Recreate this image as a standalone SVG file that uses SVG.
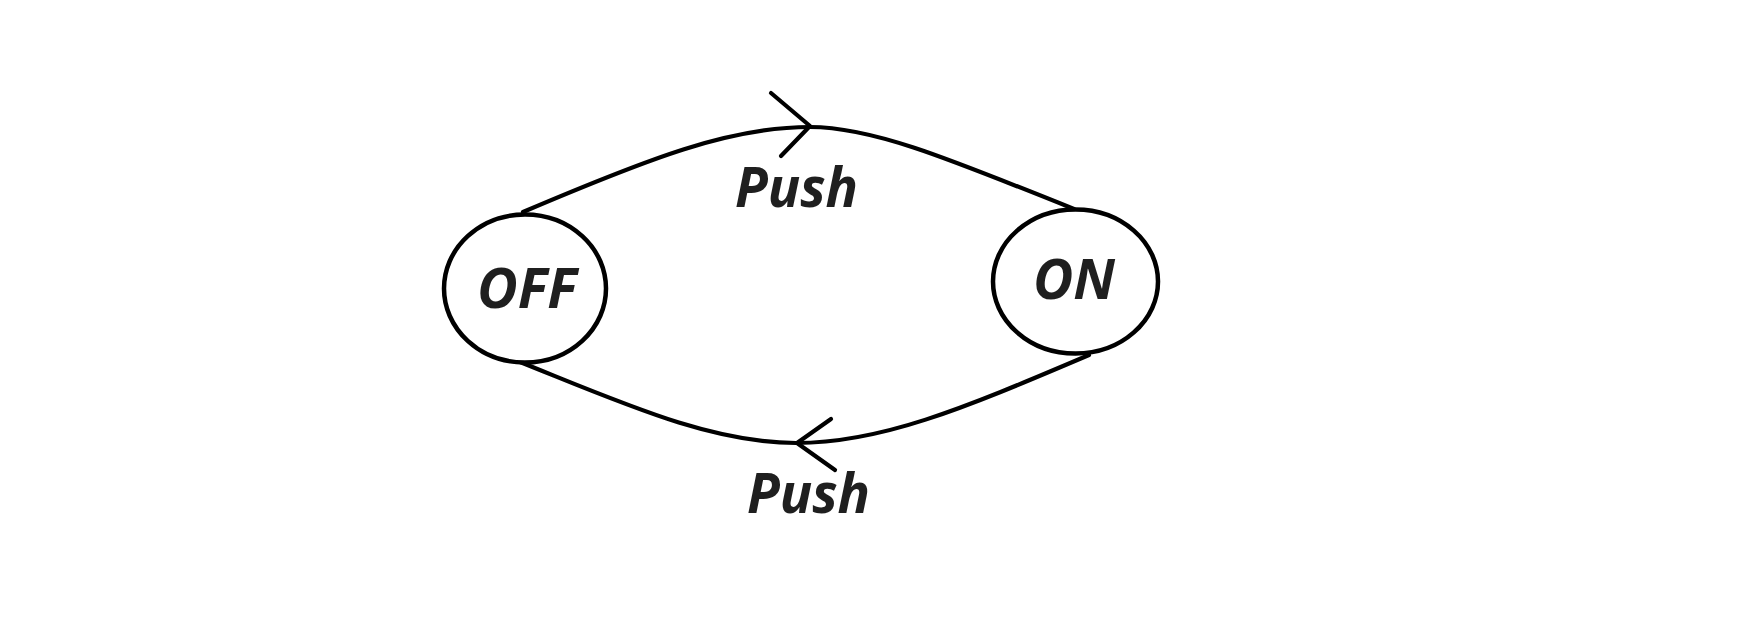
<svg xmlns="http://www.w3.org/2000/svg" width="1764" height="630" viewBox="0 0 1764 630">
  <style>
    .state { fill: #ffffff; stroke: #000000; stroke-width: 4.5; }
    .edge { fill: none; stroke: #000000; stroke-width: 4.2; stroke-linecap: round; stroke-linejoin: round; }
    .label { font-family: "Open Sans", "Liberation Sans", sans-serif; font-weight: 700; font-style: italic; font-size: 56px; fill: #1f1f1f; }
  </style>
  <rect width="1764" height="630" fill="#ffffff"/>

  <!-- transitions between the two states -->
  <g id="connectors">
    <g id="edge-off-on">
      <path class="edge" d="M523,212 C650,158 730,127 810,127 C870,127 940,155 1074,209"/>
      <path class="edge" d="M771,93 L810,126 L781,156"/>
      <text class="label" x="735" y="207" textLength="123" lengthAdjust="spacingAndGlyphs">Push</text>
    </g>
    <g id="edge-on-off">
      <path class="edge" d="M520,362 C620,402 710,443 796,443 C880,443 960,410 1089,355"/>
      <path class="edge" d="M831,419 L797,443 L835,470"/>
      <text class="label" x="747" y="513" textLength="123" lengthAdjust="spacingAndGlyphs">Push</text>
    </g>
  </g>

  <g id="state-off">
    <ellipse class="state" cx="525" cy="288.5" rx="81" ry="74"/>
    <text class="label" x="477" y="308" textLength="100" lengthAdjust="spacingAndGlyphs">OFF</text>
  </g>

  <g id="state-on">
    <ellipse class="state" cx="1075.5" cy="281.5" rx="82.5" ry="72"/>
    <text class="label" x="1033" y="299" textLength="82" lengthAdjust="spacingAndGlyphs">ON</text>
  </g>
</svg>
